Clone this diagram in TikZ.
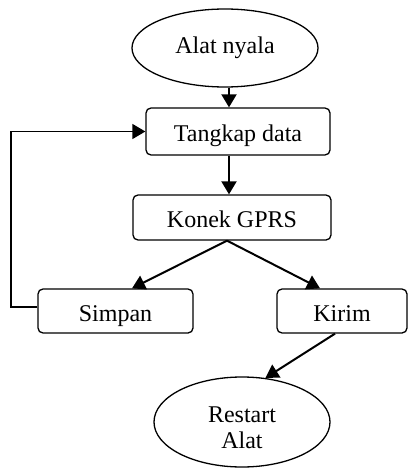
\documentclass[tikz,border=0pt]{standalone}
\usepackage{fontspec}
\setmainfont{Liberation Serif}
\usetikzlibrary{arrows.meta,shapes.geometric}
\begin{document}
\begin{tikzpicture}[x=1pt,y=-1pt,
  txt/.style={font=\fontsize{24}{25.5}\selectfont},
  box/.style={txt, draw, line width=1.3pt, rounded corners=5pt, inner sep=0pt, text height=20pt, text depth=0pt},
  oval/.style={txt, draw, ellipse, line width=1.3pt, inner sep=0pt},
  arr/.style={line width=2pt, -{Triangle[length=13pt,width=15pt]}},
  looparr/.style={line width=1.4pt, -{Triangle[length=13pt,width=15pt]}}]
\useasboundingbox (0,0) rectangle (408,468);
\node[oval, minimum width=186pt, minimum height=78pt] (start) at (225,48) {Alat nyala};
\node[box, minimum width=184pt, minimum height=47pt] (tangkap) at (238,131.5) {Tangkap data};
\node[box, minimum width=198pt, minimum height=45pt] (konek) at (232,217.5) {Konek GPRS};
\node[box, minimum width=155pt, minimum height=44pt] (simpan) at (115.5,311) {Simpan};
\node[box, minimum width=130pt, minimum height=44pt] (kirim) at (342,311) {Kirim};
\node[oval, minimum width=176pt, minimum height=90pt, align=center, text height=52pt, text depth=0pt] (restart) at (242,422) {Restart\\Alat};
\coordinate (lc) at (11,0);
\draw[arr] ([xshift=4pt]start.south) -- ([xshift=-9pt]tangkap.north);
\draw[arr] ([xshift=-9pt]tangkap.south) -- ([xshift=-3pt]konek.north);
\draw[arr] ([xshift=-5pt]konek.south) -- ([xshift=16.5pt]simpan.north);
\draw[arr] ([xshift=-5pt]konek.south) -- ([xshift=-22pt]kirim.north);
\draw[arr] ([xshift=-7pt]kirim.south) -- (restart.62);
\draw[looparr] ([yshift=4pt]simpan.west) -| (lc |- tangkap.west) -- (tangkap.west);
\end{tikzpicture}
\end{document}
